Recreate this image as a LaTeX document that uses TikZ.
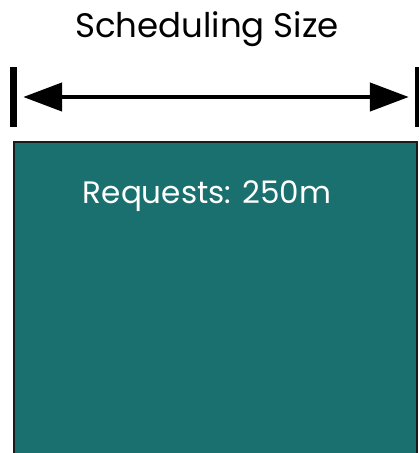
\documentclass[tikz,border=0pt]{standalone}
\usepackage{fontspec}
\setmainfont{Poppins}
\usetikzlibrary{arrows.meta}
\definecolor{teal1}{HTML}{19706E}
\definecolor{edge1}{HTML}{1A1A1A}
\tikzset{
  bar/.style={fill=black, draw=none, minimum width=7pt, minimum height=60pt, inner sep=0pt},
  dimarrow/.style={line width=4.5pt, {Triangle[length=39pt,width=28pt]}-{Triangle[length=39pt,width=28pt]}, shorten <=6pt, shorten >=6pt},
  box/.style={fill=teal1, draw=edge1, line width=2pt},
  lbl/.style={inner sep=0pt, anchor=base}
}
\begin{document}
\begin{tikzpicture}[x=1pt,y=-1pt]
\useasboundingbox (0,0) rectangle (419,453);
\node[lbl, font=\fontsize{34}{40}\selectfont] (title) at (207,37) {Scheduling Size};
\node[bar] (lbar) at (13.5,97) {};
\node[bar] (rbar) at (418.5,97) {};
\draw[dimarrow] (lbar.east) -- (rbar.west);
\draw[box] (14,142) rectangle (417,470);
\node[lbl, text=white, font=\fontsize{31}{36}\selectfont] (req) at (207,203) {Requests: 250m};
\end{tikzpicture}
\end{document}
